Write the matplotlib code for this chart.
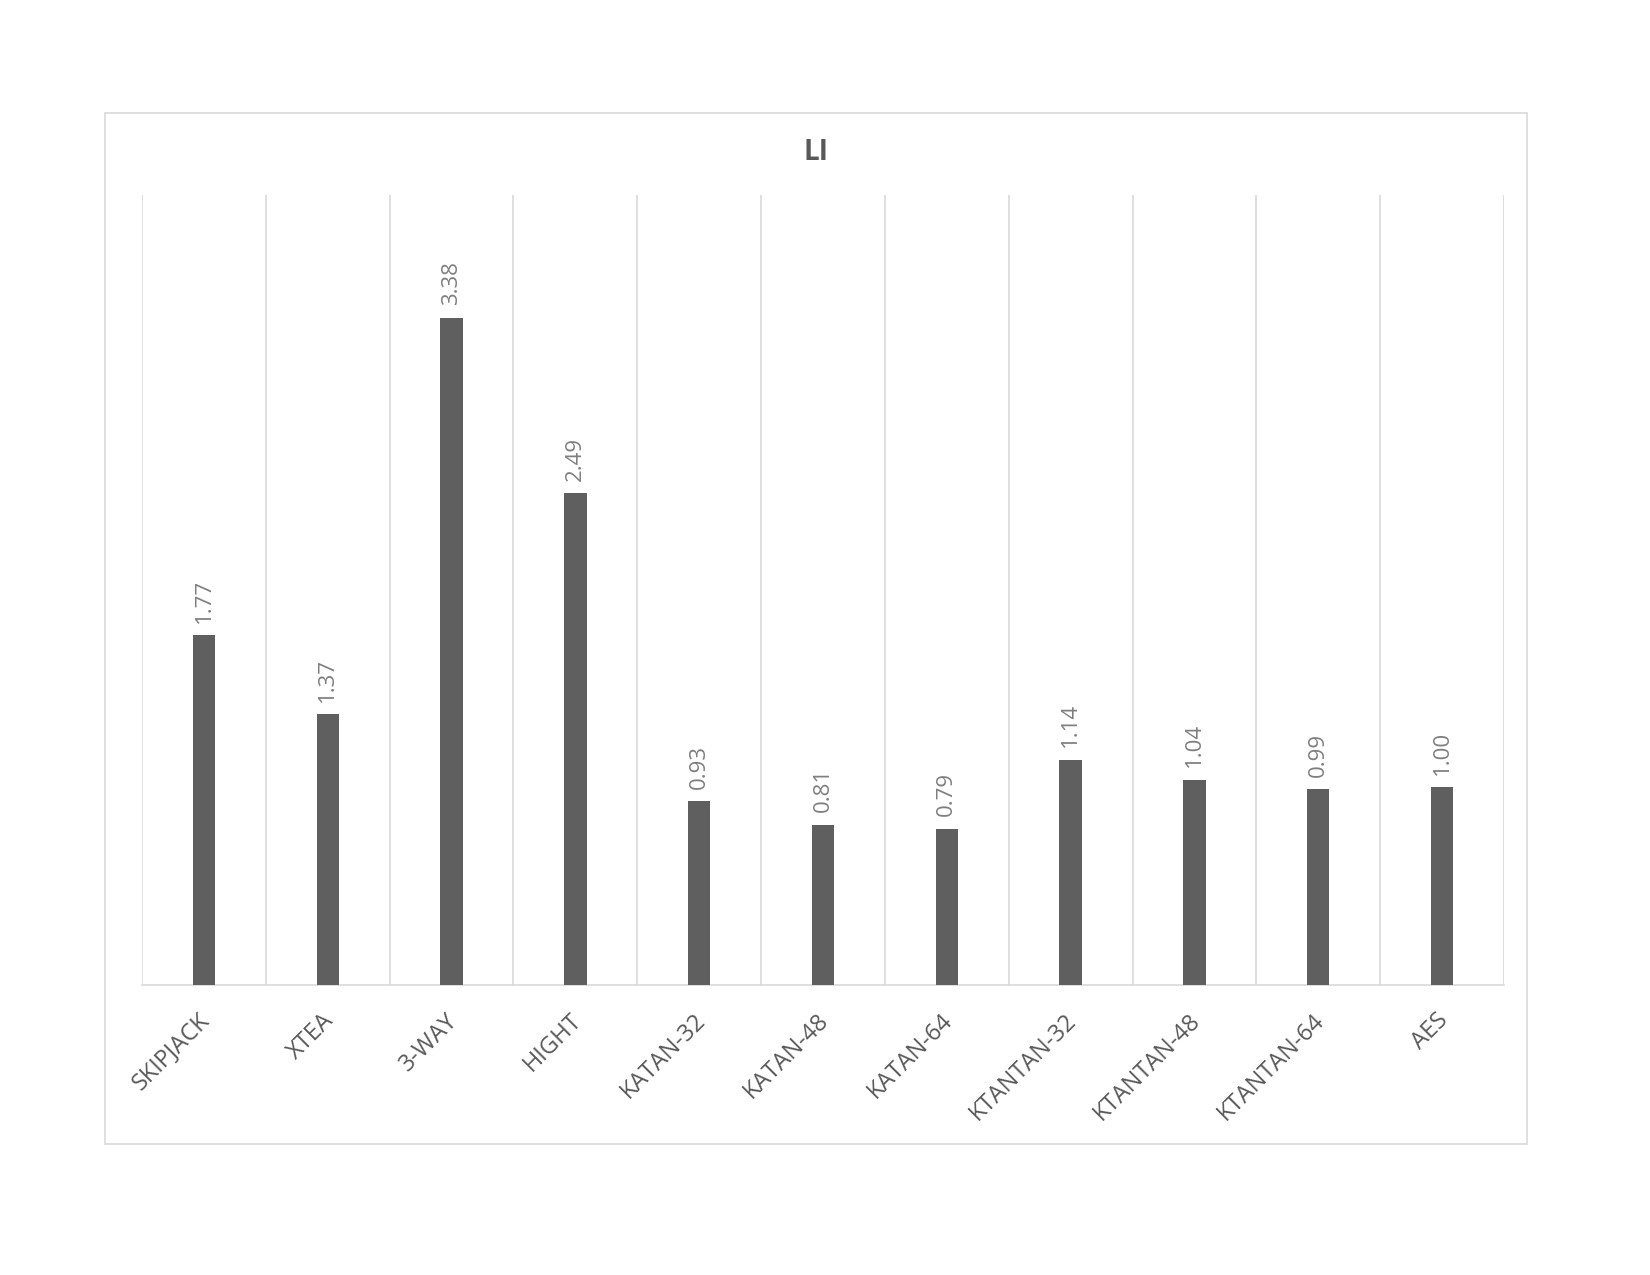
import numpy as np
import matplotlib
matplotlib.use("Agg")
import matplotlib.pyplot as plt
import matplotlib.transforms as mtransforms
from matplotlib.patches import Rectangle

# Daten
ciphers = ["SKIPJACK", "XTEA", "3-WAY", "HIGHT", "KATAN-32", "KATAN-48",
           "KATAN-64", "KTANTAN-32", "KTANTAN-48", "KTANTAN-64", "AES"]
li_values = [1.77, 1.37, 3.38, 2.49, 0.93, 0.81, 0.79, 1.14, 1.04, 0.99, 1.00]
title = "LI"

plt.rcParams['font.family'] = ['Open Sans', 'DejaVu Sans']

fig = plt.figure(figsize=(16.5, 12.75), dpi=100)
ax = fig.add_axes([0.0861, 0.2275, 0.8254, 0.6195])

# Rahmen um das ganze Diagramm
fig.patches.append(Rectangle((0.0636, 0.1027), 0.8619, 0.8087, transform=fig.transFigure,
                             fill=False, edgecolor="#d9d9d9", linewidth=1.2))

x = np.arange(len(ciphers))
bars = ax.bar(x, li_values, width=0.18, color="#5f5f5f", zorder=3)

for xi, v in zip(x, li_values):
    ax.annotate("%.2f" % v, (xi, v), xytext=(0, 9), textcoords="offset points",
                rotation=90, ha="center", va="bottom", fontsize=16, color="#7f7f7f")

ax.set_xlim(-0.5, len(ciphers) - 0.5)
ax.set_ylim(0, 4)
ax.set_yticks([])

ax.set_xticks(x)
ax.set_xticklabels(ciphers, rotation=45, ha="right", rotation_mode="anchor",
                   fontsize=17, color="#595959")
ax.tick_params(axis="x", which="major", length=0, pad=17)
# Beschriftung etwas nach links schieben
shift = mtransforms.ScaledTranslation(-6 / 100, 0, fig.dpi_scale_trans)
for lbl in ax.get_xticklabels():
    lbl.set_transform(lbl.get_transform() + shift)
ax.set_xticks(np.arange(-0.5, len(ciphers)), minor=True)
ax.tick_params(axis="x", which="minor", length=0)
ax.grid(which="minor", axis="x", color="#d9d9d9", linewidth=1.2, zorder=0)

for s in ["top", "left", "right"]:
    ax.spines[s].set_visible(False)
ax.spines["bottom"].set_color("#d9d9d9")
ax.spines["bottom"].set_linewidth(1.2)

fig.text(0.4945, 0.880, title, ha="center", va="center", fontsize=20,
         fontweight="bold", color="#595959")

fig.savefig("out.png", dpi=100)
